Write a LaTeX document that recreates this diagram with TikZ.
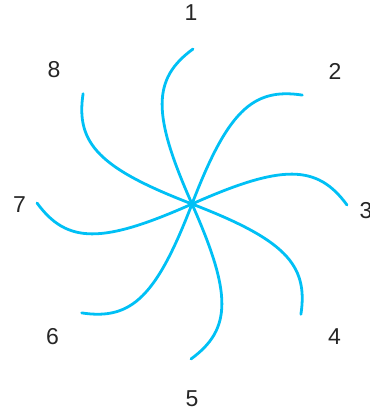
\documentclass[tikz,border=0pt]{standalone}
\usepackage{fontspec}
\setmainfont{Liberation Sans}
\definecolor{petal}{RGB}{0,192,245}
\begin{document}
\begin{tikzpicture}[x=1pt,y=1pt,
  petalline/.style={draw=petal,line width=2.8pt,line cap=round},
  lbl/.style={inner sep=0pt,font=\fontsize{23}{23}\selectfont,text=black!85}]
\useasboundingbox (0,0) rectangle (370,408);
\coordinate (c) at (192,204);
\foreach \k in {1,...,8}{
  \begin{scope}[shift={(c)},rotate={-45*(\k-1)}]
    \coordinate (e\k) at (1,155);
    \draw[petalline] (0,0) .. controls (-40,90) and (-40,125) .. (e\k);
  \end{scope}
}
\node[lbl] (l1) at (191,395.5) {1};
\node[lbl] (l2) at (335,336.5) {2};
\node[lbl] (l3) at (366,197.5) {3};
\node[lbl] (l4) at (334.5,71) {4};
\node[lbl] (l5) at (192,9) {5};
\node[lbl] (l6) at (52.5,71.5) {6};
\node[lbl] (l7) at (19.5,203) {7};
\node[lbl] (l8) at (54,338) {8};
\end{tikzpicture}
\end{document}
